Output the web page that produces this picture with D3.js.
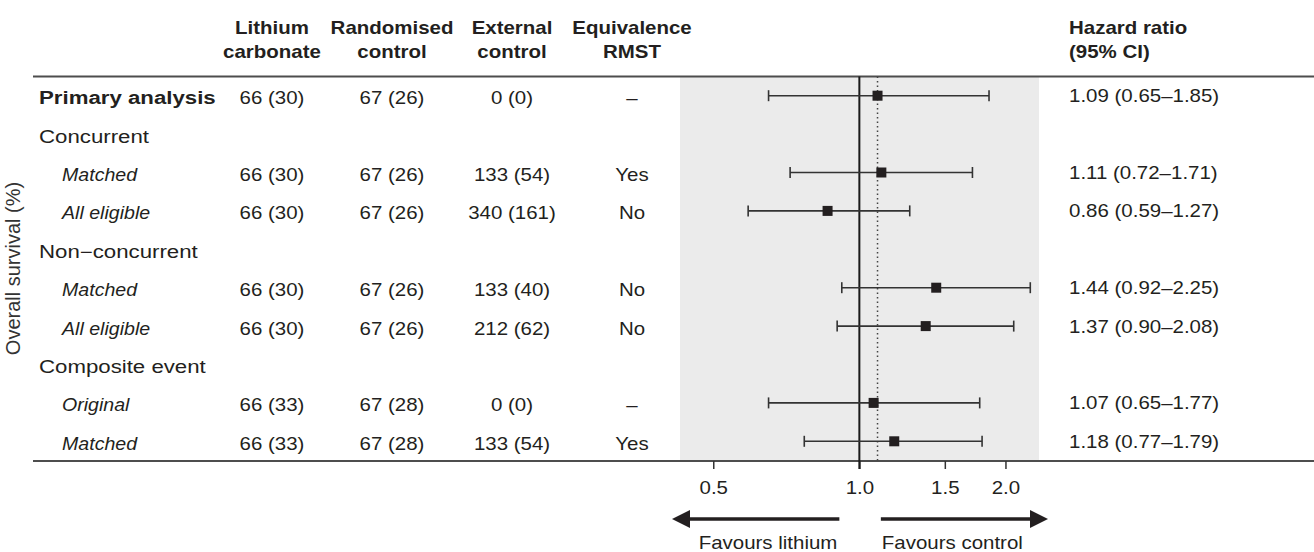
<!doctype html>
<html>
<head>
  <meta charset="utf-8">
  <title>Forest plot - overall survival</title>
  <script src="https://cdn.jsdelivr.net/npm/d3@7"></script>
  <style>
    body { margin: 0; background: #fff; }
    svg { display: block; font-family: "Liberation Sans", Arial, Helvetica, sans-serif; }
  </style>
</head>
<body>
  <div id="chart"></div>

  <script type="text/javascript">
    var width = 1314;
    var height = 552;

    // rows, top to bottom (group headers have no values)
    var rowLabels = ['Primary analysis', 'Concurrent', 'Matched', 'All eligible',
      'Non\u2212concurrent', 'Matched', 'All eligible', 'Composite event', 'Original', 'Matched'];
    var rowKind = ['bold', 'group', 'sub', 'sub', 'group', 'sub', 'sub', 'group', 'sub', 'sub'];
    var lithium = ['66 (30)', null, '66 (30)', '66 (30)', null, '66 (30)', '66 (30)', null, '66 (33)', '66 (33)'];
    var randomised = ['67 (26)', null, '67 (26)', '67 (26)', null, '67 (26)', '67 (26)', null, '67 (28)', '67 (28)'];
    var external = ['0 (0)', null, '133 (54)', '340 (161)', null, '133 (40)', '212 (62)', null, '0 (0)', '133 (54)'];
    var rmst = ['\u2013', null, 'Yes', 'No', null, 'No', 'No', null, '\u2013', 'Yes'];
    var hr = [1.09, null, 1.11, 0.86, null, 1.44, 1.37, null, 1.07, 1.18];
    var lower = [0.65, null, 0.72, 0.59, null, 0.92, 0.90, null, 0.65, 0.77];
    var upper = [1.85, null, 1.71, 1.27, null, 2.25, 2.08, null, 1.77, 1.79];

    var columnHeads = [['Lithium', 'carbonate'], ['Randomised', 'control'], ['External', 'control'], ['Equivalence', 'RMST']];
    var columnCenters = [272, 392, 512, 632];
    var tickValues = [0.5, 1.0, 1.5, 2.0];

    var ink = '#231f20';
    var fontSize = 17.5, stretch = 1.17;

    var svg = d3.select('div#chart')
      .append('svg')
      .attr('width', width)
      .attr('height', height);

    var plotTop = 76.5, plotBottom = 461;
    var panelLeft = 680, panelRight = 1039;

    var y = d3.scalePoint()
      .domain(d3.range(rowLabels.length))
      .range([95.7, 441.3]);

    var x = d3.scaleLog()
      .domain([0.427, 2.345])
      .range([panelLeft, panelRight]);

    // text, widened a little like the original figure
    function put(g, str, px, py, anchor, weight, style, sx) {
      return g.append('text')
        .attr('transform', 'translate(' + px + ',' + py + ') scale(' + (sx || stretch) + ',1)')
        .attr('text-anchor', anchor)
        .attr('font-size', fontSize + 'px')
        .attr('font-weight', weight || 'normal')
        .attr('font-style', style || 'normal')
        .attr('fill', ink)
        .text(str);
    }

    // shaded panel
    svg.append('rect')
      .attr('x', panelLeft)
      .attr('y', plotTop)
      .attr('width', panelRight - panelLeft)
      .attr('height', plotBottom - plotTop)
      .attr('fill', '#ebebeb');

    // rules
    [plotTop, plotBottom].forEach(function(ry) {
      svg.append('line')
        .attr('x1', 33).attr('x2', width)
        .attr('y1', ry).attr('y2', ry)
        .attr('stroke', '#4d4d4d')
        .attr('stroke-width', 2);
    });

    // headers
    var head = svg.append('g');
    columnHeads.forEach(function(lines, i) {
      put(head, lines[0], columnCenters[i], 34, 'middle', 'bold');
      put(head, lines[1], columnCenters[i], 58, 'middle', 'bold');
    });
    put(head, 'Hazard ratio', 1069, 34, 'start', 'bold');
    put(head, '(95% CI)', 1069, 58, 'start', 'bold');

    // y label
    svg.append('text')
      .attr('transform', 'translate(20,' + ((y(0) + y(9)) / 2) + ') rotate(-90)')
      .attr('text-anchor', 'middle')
      .attr('font-size', '20px')
      .attr('fill', '#333')
      .text('Overall survival (%)');

    // table rows
    var table = svg.append('g');
    rowLabels.forEach(function(lab, i) {
      var by = y(i) + 8.5;
      var k = rowKind[i];
      if (k === 'sub') put(table, lab, 62, by, 'start', 'normal', 'italic', 1.12);
      else put(table, lab, 39, by, 'start', k === 'bold' ? 'bold' : 'normal', 'normal', 1.27);
      if (lithium[i] === null) return;
      put(table, lithium[i], columnCenters[0], by, 'middle');
      put(table, randomised[i], columnCenters[1], by, 'middle');
      put(table, external[i], columnCenters[2], by, 'middle');
      put(table, rmst[i], columnCenters[3], by, 'middle');
    });

    // dotted line at the primary estimate
    svg.append('line')
      .attr('x1', x(hr[0])).attr('x2', x(hr[0]))
      .attr('y1', plotTop).attr('y2', plotBottom)
      .attr('stroke', '#444')
      .attr('stroke-width', 1.5)
      .attr('stroke-dasharray', '1.5,3');

    // axis
    var axis = svg.append('g')
      .attr('transform', 'translate(0,' + plotBottom + ')')
      .call(d3.axisBottom(x)
        .tickValues(tickValues)
        .tickFormat(d3.format('.1f'))
        .tickSize(8)
        .tickSizeOuter(0)
        .tickPadding(13));
    axis.select('.domain').remove();
    axis.selectAll('line').attr('stroke', '#333').attr('stroke-width', 1.5);
    axis.selectAll('.tick text')
      .attr('fill', ink)
      .attr('font-size', fontSize + 'px')
      .attr('font-family', null)
      .attr('transform', 'scale(' + stretch + ',1)');

    // no-effect line
    svg.append('line')
      .attr('x1', x(1)).attr('x2', x(1))
      .attr('y1', plotTop).attr('y2', plotBottom + 8)
      .attr('stroke', '#1a1a1a')
      .attr('stroke-width', 2);

    // confidence intervals
    var idx = d3.range(rowLabels.length).filter(function(i) { return hr[i] !== null; });
    var ci = svg.append('g').attr('stroke', '#333').attr('stroke-width', 1.6);
    ci.selectAll('line.ci')
      .data(idx)
      .enter()
      .append('line')
      .attr('x1', function(i) { return x(lower[i]); })
      .attr('x2', function(i) { return x(upper[i]); })
      .attr('y1', function(i) { return y(i); })
      .attr('y2', function(i) { return y(i); });
    ci.selectAll('line.lo')
      .data(idx)
      .enter()
      .append('line')
      .attr('x1', function(i) { return x(lower[i]); })
      .attr('x2', function(i) { return x(lower[i]); })
      .attr('y1', function(i) { return y(i) - 5.5; })
      .attr('y2', function(i) { return y(i) + 5.5; });
    ci.selectAll('line.hi')
      .data(idx)
      .enter()
      .append('line')
      .attr('x1', function(i) { return x(upper[i]); })
      .attr('x2', function(i) { return x(upper[i]); })
      .attr('y1', function(i) { return y(i) - 5.5; })
      .attr('y2', function(i) { return y(i) + 5.5; });

    svg.selectAll('rect.pt')
      .data(idx)
      .enter()
      .append('rect')
      .attr('x', function(i) { return x(hr[i]) - 5; })
      .attr('y', function(i) { return y(i) - 5; })
      .attr('width', 10)
      .attr('height', 10)
      .attr('fill', ink);

    // hazard ratio text
    idx.forEach(function(i) {
      var s = hr[i].toFixed(2) + ' (' + lower[i].toFixed(2) + '\u2013' + upper[i].toFixed(2) + ')';
      put(svg, s, 1069, y(i) + 6.5, 'start');
    });

    // direction arrows
    var ay = 519;
    var arrows = [
      { from: x(1) - 20, to: panelLeft - 8, label: 'Favours lithium', anchor: 'end' },
      { from: x(1) + 21.5, to: panelRight + 9, label: 'Favours control', anchor: 'start' }
    ];
    arrows.forEach(function(a) {
      var dir = a.to > a.from ? 1 : -1;
      svg.append('line')
        .attr('x1', a.from).attr('x2', a.to - dir * 16)
        .attr('y1', ay).attr('y2', ay)
        .attr('stroke', ink)
        .attr('stroke-width', 3.5);
      svg.append('path')
        .attr('d', 'M' + a.to + ',' + ay + 'L' + (a.to - dir * 18) + ',' + (ay - 9) +
          'L' + (a.to - dir * 18) + ',' + (ay + 9) + 'Z')
        .attr('fill', ink);
      put(svg, a.label, a.from + (dir < 0 ? -2 : 1), 549, a.anchor);
    });
  </script>
</body>
</html>
